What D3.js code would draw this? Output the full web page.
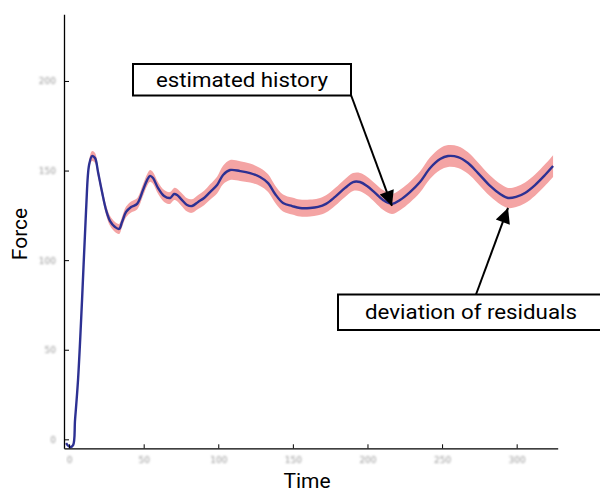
<!DOCTYPE html>
<html><head><meta charset="utf-8">
<script src="https://cdn.jsdelivr.net/npm/d3@7"></script>
<style>body{margin:0;background:#fff}svg{display:block}</style>
</head><body>
<svg id="chart" width="600" height="493"></svg>
<script>
// ---- data ----
const time = [-2.0,0.7,2.7,4.0,6.0,8.7,11.4,13.4,15.4,17.4,19.4,22.1,24.8,27.5,30.8,33.5,35.5,38.2,41.6,45.6,49.6,52.3,54.3,56.3,59.6,63.7,67.7,70.4,72.4,75.1,79.1,82.4,86.5,90.5,94.5,99.2,103.2,107.9,114.6,121.3,128.0,133.4,138.1,143.4,149.5,154.8,161.5,166.9,172.2,178.3,185.0,190.3,195.0,199.7,205.1,210.4,216.4,221.8,228.5,235.2,242.0,248.7,254.0,260.7,267.4,274.1,282.2,288.9,294.2,299.6,305.6,312.3,319.0,324.4];
const force = [-2.1,-4.3,-3.2,10.8,33.1,77.8,128.0,153.1,158.1,157.0,149.2,138.0,128.0,121.8,118.5,117.4,121.3,126.9,129.7,131.4,139.2,144.7,147.0,145.8,140.3,135.8,134.7,136.9,136.4,134.1,130.8,130.2,132.5,134.7,138.0,141.9,147.5,150.3,149.7,148.6,146.4,143.0,136.9,131.9,130.2,129.1,129.1,129.7,131.4,135.3,140.3,143.6,143.6,141.4,137.5,133.6,131.4,133.6,138.0,143.6,151.4,156.4,158.1,157.5,154.2,148.6,141.4,136.9,134.7,135.3,137.5,141.9,147.5,152.5];
const deviation = [0.3,0.4,0.5,0.7,0.9,1.2,1.6,2.2,2.8,2.8,2.8,2.8,2.8,2.8,2.8,2.8,2.9,3.0,3.1,3.2,3.3,3.3,3.3,3.3,3.3,3.3,3.3,3.4,3.5,3.6,3.7,3.8,3.9,4.0,4.3,4.7,5.2,5.6,5.5,5.3,5.0,4.9,4.8,4.7,4.7,4.7,4.7,4.7,4.8,4.9,5.0,5.0,5.1,5.2,5.3,5.5,5.6,5.7,5.8,5.9,6.0,6.1,6.1,6.1,6.0,5.9,5.8,5.7,5.6,5.7,5.8,5.9,6.0,6.1];
const xTicks = [0,50,100,150,200,250,300];
const yTicks = [0,50,100,150,200];
const xLabel = "Time", yLabel = "Force";
const note1 = "estimated history", note2 = "deviation of residuals";

// ---- chart ----
const svg = d3.select("#chart");
const x = d3.scaleLinear().domain([-3.4, 327.5]).range([64, 557.7]);
const y = d3.scaleLinear().domain([-5, 237.2]).range([448.3, 14.3]);
const pts = time.map((t,i)=>({t, f:force[i], d:deviation[i]}));

const defs = svg.append("defs");
defs.append("filter").attr("id","blur").append("feGaussianBlur").attr("stdDeviation",1.1);
const m = defs.append("marker").attr("id","ah").attr("viewBox","0 0 10 10")
  .attr("refX",10).attr("refY",5).attr("markerWidth",10).attr("markerHeight",7.5)
  .attr("markerUnits","strokeWidth").attr("orient","auto");
m.append("path").attr("d","M0,0L10,5L0,10Z").attr("fill","#000");

// band
svg.append("path").datum(pts)
  .attr("fill","#f4a4a4")
  .attr("d", d3.area().curve(d3.curveCatmullRom).x(d=>x(d.t)).y0(d=>y(d.f-d.d)).y1(d=>y(d.f+d.d)));
// line
svg.append("path").datum(pts)
  .attr("fill","none").attr("stroke","#2d3193").attr("stroke-width",2.4)
  .attr("d", d3.line().curve(d3.curveCatmullRom).x(d=>x(d.t)).y(d=>y(d.f)));

// axes
const gx = svg.append("g").attr("transform","translate(0,448.3)")
  .call(d3.axisBottom(x).tickValues(xTicks).tickSizeInner(-4).tickSizeOuter(0).tickPadding(8));
const gy = svg.append("g").attr("transform","translate(64,0)")
  .call(d3.axisLeft(y).tickValues(yTicks).tickSizeInner(-5).tickSizeOuter(0).tickPadding(8));
[gx,gy].forEach(g=>{
  g.select(".domain").attr("stroke","#000").attr("stroke-width",1.3);
  g.selectAll(".tick line").attr("stroke","#000").attr("stroke-width",1);
  g.selectAll(".tick text").attr("fill","#999").attr("font-size",9)
   .attr("font-family","DejaVu Sans").attr("filter","url(#blur)");
});

// axis labels
svg.append("text").attr("x",307).attr("y",488).attr("text-anchor","middle")
  .attr("font-family","Roboto").attr("font-size",21).attr("fill","#000").text(xLabel);
svg.append("text").attr("transform","translate(27,234) rotate(-90)").attr("text-anchor","middle")
  .attr("font-family","Roboto").attr("font-size",21).attr("fill","#000").text(yLabel);

// annotations
function note(bx, by, bw, bh, txt, tw, tcx, from, target, dy){
  const tx = x(target[0]), ty = y(target[1]) + dy;
  svg.append("line").attr("x1",from[0]).attr("y1",from[1]).attr("x2",tx).attr("y2",ty)
    .attr("stroke","#000").attr("stroke-width",2).attr("marker-end","url(#ah)");
  svg.append("rect").attr("x",bx).attr("y",by).attr("width",bw).attr("height",bh)
    .attr("fill","#fff").attr("stroke","#000").attr("stroke-width",2);
  svg.append("text").attr("x",tcx).attr("y",by+bh/2+7).attr("text-anchor","middle")
    .attr("font-family","Roboto").attr("font-size",21).attr("fill","#000")
    .attr("textLength",tw).attr("lengthAdjust","spacingAndGlyphs").text(txt);
}
note(133, 64, 218, 31.5, note1, 172, 242, [351,95], [216.4,131.4], 2);
note(338, 294.5, 280, 35.5, note2, 212, 471, [476,294.5], [294.2,134.7], 10);
</script>
</body></html>
